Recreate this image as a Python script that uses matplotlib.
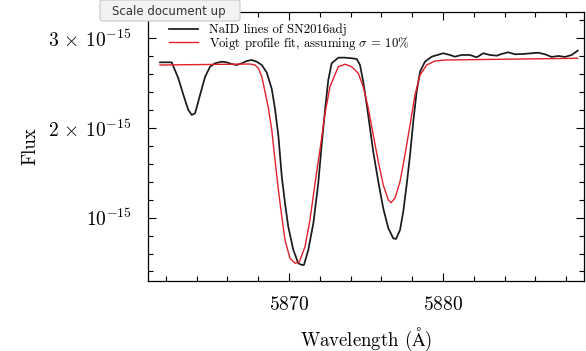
import matplotlib
matplotlib.use("Agg")
import matplotlib.pyplot as plt
from matplotlib.ticker import MultipleLocator, FuncFormatter
from matplotlib.patches import FancyBboxPatch

# NaID spectrum (wavelength in Angstrom, flux in units of 1e-15)
obs_wave = [5861.62, 5862.38, 5862.81, 5863.14, 5863.46, 5863.68, 5863.90, 5864.22, 5864.55,
            5864.87, 5865.19, 5865.63, 5865.95, 5866.28, 5866.60, 5866.93, 5867.25, 5867.58,
            5867.90, 5868.23, 5868.55, 5868.88, 5869.09, 5869.31, 5869.53, 5869.74, 5869.95,
            5870.28, 5870.60, 5870.82, 5870.97, 5871.25, 5871.58, 5871.90, 5872.12, 5872.34,
            5872.55, 5872.77, 5873.20, 5873.64, 5874.07, 5874.40, 5874.61, 5874.82, 5875.05,
            5875.26, 5875.47, 5875.80, 5876.12, 5876.45, 5876.77, 5876.95, 5877.21, 5877.42,
            5877.64, 5877.86, 5878.07, 5878.29, 5878.51, 5878.83, 5879.27, 5879.48, 5880.02,
            5880.45, 5880.78, 5881.21, 5881.75, 5882.19, 5882.62, 5883.05, 5883.49, 5883.81,
            5884.24, 5884.68, 5885.21, 5885.76, 5886.19, 5886.62, 5887.06, 5887.49, 5887.92,
            5888.36, 5888.75]
obs_flux = [2.732, 2.732, 2.554, 2.368, 2.201, 2.145, 2.164, 2.368, 2.572,
            2.683, 2.721, 2.739, 2.732, 2.713, 2.702, 2.721, 2.747, 2.758,
            2.739, 2.702, 2.619, 2.435, 2.212, 1.911, 1.457, 1.161, 0.900,
            0.640, 0.492, 0.473, 0.473, 0.640, 0.938, 1.384, 1.810, 2.201,
            2.535, 2.721, 2.784, 2.784, 2.777, 2.769, 2.702, 2.516, 2.256,
            1.997, 1.736, 1.401, 1.105, 0.882, 0.770, 0.763, 0.863, 1.067,
            1.365, 1.699, 2.070, 2.405, 2.628, 2.739, 2.795, 2.806, 2.833,
            2.814, 2.795, 2.814, 2.814, 2.788, 2.833, 2.814, 2.806, 2.825,
            2.844, 2.822, 2.825, 2.833, 2.839, 2.822, 2.792, 2.803, 2.792,
            2.814, 2.862]

fit_wave = [5861.62, 5867.47, 5867.79, 5868.01, 5868.23, 5868.44, 5868.66, 5868.88, 5869.09,
            5869.31, 5869.53, 5869.74, 5870.06, 5870.39, 5870.67, 5871.04, 5871.36, 5871.69,
            5872.01, 5872.34, 5872.66, 5873.20, 5873.64, 5874.07, 5874.50, 5874.82, 5875.15,
            5875.47, 5875.80, 5876.12, 5876.45, 5876.62, 5876.88, 5877.21, 5877.53, 5877.86,
            5878.18, 5878.51, 5878.94, 5879.48, 5880.24, 5888.75]
fit_flux = [2.702, 2.713, 2.702, 2.666, 2.572, 2.405, 2.223, 1.978, 1.643,
            1.309, 1.011, 0.751, 0.547, 0.492, 0.509, 0.677, 0.974, 1.384,
            1.755, 2.164, 2.460, 2.683, 2.710, 2.683, 2.610, 2.460, 2.220,
            1.922, 1.624, 1.365, 1.197, 1.167, 1.216, 1.401, 1.699, 2.033,
            2.368, 2.591, 2.702, 2.747, 2.758, 2.777]

scale = 1e-15
labels = ["NaID lines of SN2016adj", r"Voigt profile fit, assuming $\sigma$ = 10%"]

plt.rcParams['mathtext.fontset'] = 'cm'
plt.rcParams['font.family'] = ['cmr10', 'DejaVu Serif']
plt.rcParams['axes.formatter.use_mathtext'] = True

fig = plt.figure(figsize=(5.86, 3.51), dpi=100)
ax = fig.add_axes([148/586, 1 - 281/351, (584-148)/586, (281-12)/351])

ax.plot(obs_wave, [f*scale for f in obs_flux], color='#1a1a1a', lw=1.25, label=labels[0])
ax.plot(fit_wave, [f*scale for f in fit_flux], color='#e3202a', lw=1.0, label=labels[1])

ax.set_xlim(5860.84, 5889.16)
ax.set_ylim(0.294e-15, 3.293e-15)
ax.xaxis.set_major_locator(MultipleLocator(10))
ax.xaxis.set_minor_locator(MultipleLocator(2))
ax.yaxis.set_major_locator(MultipleLocator(1e-15))
ax.yaxis.set_minor_locator(MultipleLocator(0.2e-15))

def yfmt(v, pos):
    m = round(v / 1e-15)
    if m == 1:
        return r"$10^{-15}$"
    return r"$%d\,\times\,10^{-15}$" % m
ax.yaxis.set_major_formatter(FuncFormatter(yfmt))
ax.xaxis.set_major_formatter(FuncFormatter(lambda v, p: r"$%d$" % v))

ax.tick_params(which='both', direction='in', top=True, right=True, labelsize=14)
ax.tick_params(which='major', length=6, width=0.8)
ax.tick_params(which='minor', length=3.5, width=0.8)
ax.tick_params(axis='y', pad=12)
ax.tick_params(axis='x', pad=11)
for s in ax.spines.values():
    s.set_linewidth(0.9)

ax.set_xlabel(r"Wavelength ($\mathrm{\AA}$)", fontsize=13.5, labelpad=8)
ax.set_ylabel("Flux", fontsize=13.5, labelpad=6)

leg = ax.legend(loc='upper left', bbox_to_anchor=(0.022, 1.0), frameon=False,
                fontsize=9.2, handlelength=2.3, handletextpad=0.8, labelspacing=-0.1)

# UI tooltip overlay present in the screenshot
box = FancyBboxPatch((100/586, 1 - 21/351), 140/586, 21/351, boxstyle="round,pad=0,rounding_size=0.006",
                     transform=fig.transFigure, facecolor='#f2f2f2', edgecolor='#c8c8c8', lw=0.8,
                     zorder=10, clip_on=False)
fig.patches.append(box)
fig.text(169/586, 1 - 11/351, "Scale document up", ha='center', va='center', fontsize=8.5,
         family='DejaVu Sans', color='#333333', zorder=11)

fig.savefig("out.png", dpi=100)
